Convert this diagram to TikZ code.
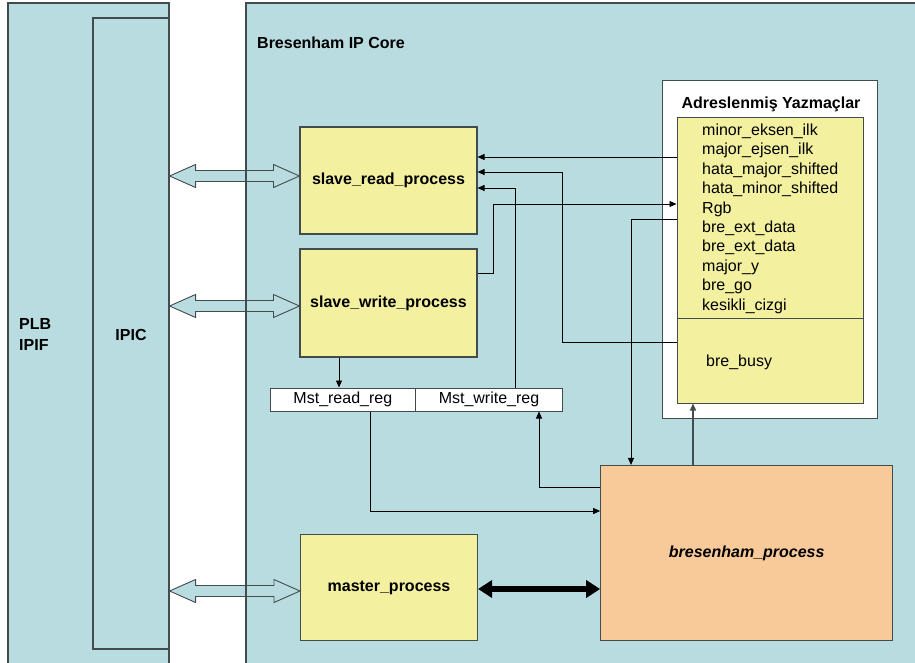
\documentclass[tikz,border=0pt]{standalone}
\usepackage{fontspec}
\setmainfont{Liberation Sans}
\usetikzlibrary{arrows.meta,calc}

\definecolor{panelblue}{RGB}{185,220,224}
\definecolor{procyellow}{RGB}{243,241,160}
\definecolor{procorange}{RGB}{248,202,153}
\definecolor{edge}{RGB}{66,76,78}

% hollow two-headed bus arrow between two points
\newcommand\hollowlink[2]{%
  \draw[hollow] (#1) -- ($(#1)+(26,-11.5)$) -- ($(#1)+(26,-5.5)$)
    -- ($(#2)+(-26,-5.5)$) -- ($(#2)+(-26,-11.5)$) -- (#2)
    -- ($(#2)+(-26,11.5)$) -- ($(#2)+(-26,5.5)$)
    -- ($(#1)+(26,5.5)$) -- ($(#1)+(26,11.5)$) -- cycle;}

\begin{document}
\begin{tikzpicture}[x=1pt,y=-1pt,
  frame/.style={draw=edge, line width=1.1pt},
  txt/.style={font=\fontsize{16}{19}\selectfont, inner sep=0pt},
  btxt/.style={font=\bfseries\fontsize{16}{19}\selectfont, inner sep=0pt},
  procbox/.style={draw=edge, line width=1.1pt, fill=procyellow, inner sep=0pt,
    font=\bfseries\fontsize{16}{19}\selectfont},
  regcell/.style={draw=edge, line width=1pt, fill=white, inner sep=0pt,
    font=\fontsize{16}{19}\selectfont},
  sig/.style={draw=black, line width=0.9pt, -{Triangle[length=7pt,width=6pt]}},
  hollow/.style={draw=edge, line width=0.9pt, fill=panelblue, line join=miter},
  busarrow/.style={draw=black, line width=6pt,
    {Triangle[length=14pt,width=17pt]}-{Triangle[length=14pt,width=17pt]}}]

\useasboundingbox (0,0) rectangle (915,663);
\fill[white] (0,0) rectangle (915,663);

% PLB IPIF side with the IPIC column
\draw[frame, fill=panelblue] (8,3) rectangle (169,690);
\node[frame, fill=panelblue, minimum width=76pt, minimum height=631pt, inner sep=0pt]
  (ipic) at (131,333.5) {};
\node[btxt, anchor=base west, align=left] (plb) at (19,329.3) {PLB};
\node[btxt, anchor=base west, align=left] (ipif) at (19,350) {IPIF};
\node[btxt, anchor=base] (ipiclbl) at (131,340) {IPIC};

% Bresenham IP core area
\draw[frame, fill=panelblue] (246,3) rectangle (930,690);
\node[btxt, anchor=base west] (corelbl) at (257,48.3) {Bresenham IP Core};

% processes
\node[procbox, minimum width=177pt, minimum height=107pt] (sr) at (388.5,180.5) {slave\_read\_process};
\node[procbox, minimum width=177pt, minimum height=108pt] (sw) at (388.5,303) {slave\_write\_process};
\node[procbox, minimum width=177pt, minimum height=106pt] (mp) at (389,587.5) {master\_process};
\node[procbox, fill=procorange, minimum width=292pt, minimum height=175pt,
  font=\bfseries\itshape\fontsize{16}{19}\selectfont] (bp) at (746.7,553) {bresenham\_process};

% master registers
\node[regcell, minimum width=145.7pt, minimum height=23pt] (mr) at (342.85,399.5) {Mst\_read\_reg};
\node[regcell, minimum width=146.6pt, minimum height=23pt] (mw) at (489,399.5) {Mst\_write\_reg};

% addressed registers
\node[draw=edge, line width=1pt, fill=white, minimum width=215pt, minimum height=337pt]
  (regbox) at (769.5,249.5) {};
\node[btxt, anchor=base] (reglbl) at (771,108.3) {Adreslenmiş Yazmaçlar};
\node[draw=edge, line width=1pt, fill=procyellow, minimum width=186pt, minimum height=285pt]
  (regs) at (770,260.5) {};
\draw[draw=edge, line width=1pt] (regs.west |- 0,318) -- (regs.east |- 0,318);
\foreach \name [count=\i from 0] in {minor\_eksen\_ilk, major\_ejsen\_ilk,
    hata\_major\_shifted, hata\_minor\_shifted, Rgb, bre\_ext\_data, bre\_ext\_data,
    major\_y, bre\_go, kesikli\_cizgi}
  \node[txt, anchor=base west] (reg\i) at (702,135.3+19.44*\i) {\name};
\node[txt, anchor=base west] (busy) at (706,366) {bre\_busy};

% bus connections to the IPIC
\hollowlink{ipic.east |- 0,176}{sr.west |- 0,176}
\hollowlink{ipic.east |- 0,306}{sw.west |- 0,306}
\hollowlink{ipic.east |- 0,591}{mp.west |- 0,591}
\draw[frame] (246,3) -- (246,690);

\draw[busarrow] (mp.east |- 0,589) -- (bp.west |- 0,589);

% register signals
\draw[sig] (regs.west |- 0,157) -- (sr.east |- 0,157);
\draw[sig] (regs.west |- 0,342) -| (562,172) -- (sr.east |- 0,172);
\draw[sig] (mw.north -| 515,0) |- (sr.east |- 0,188);
\draw[sig] (sw.east |- 0,273) -| (493,204) -- (regs.west |- 0,204);
\draw[sig] (regs.west |- 0,219) -| (bp.north -| 631,0);
\draw[sig, draw=edge, line width=1.3pt] (bp.north -| 693,0) -- (regs.south -| 693,0);
\draw[sig] (sw.south -| 339,0) -- (mr.north -| 339,0);
\draw[sig] (mr.south -| 370,0) |- (bp.west |- 0,511);
\draw[sig] (bp.west |- 0,487) -| (mw.south -| 539,0);
\end{tikzpicture}
\end{document}
